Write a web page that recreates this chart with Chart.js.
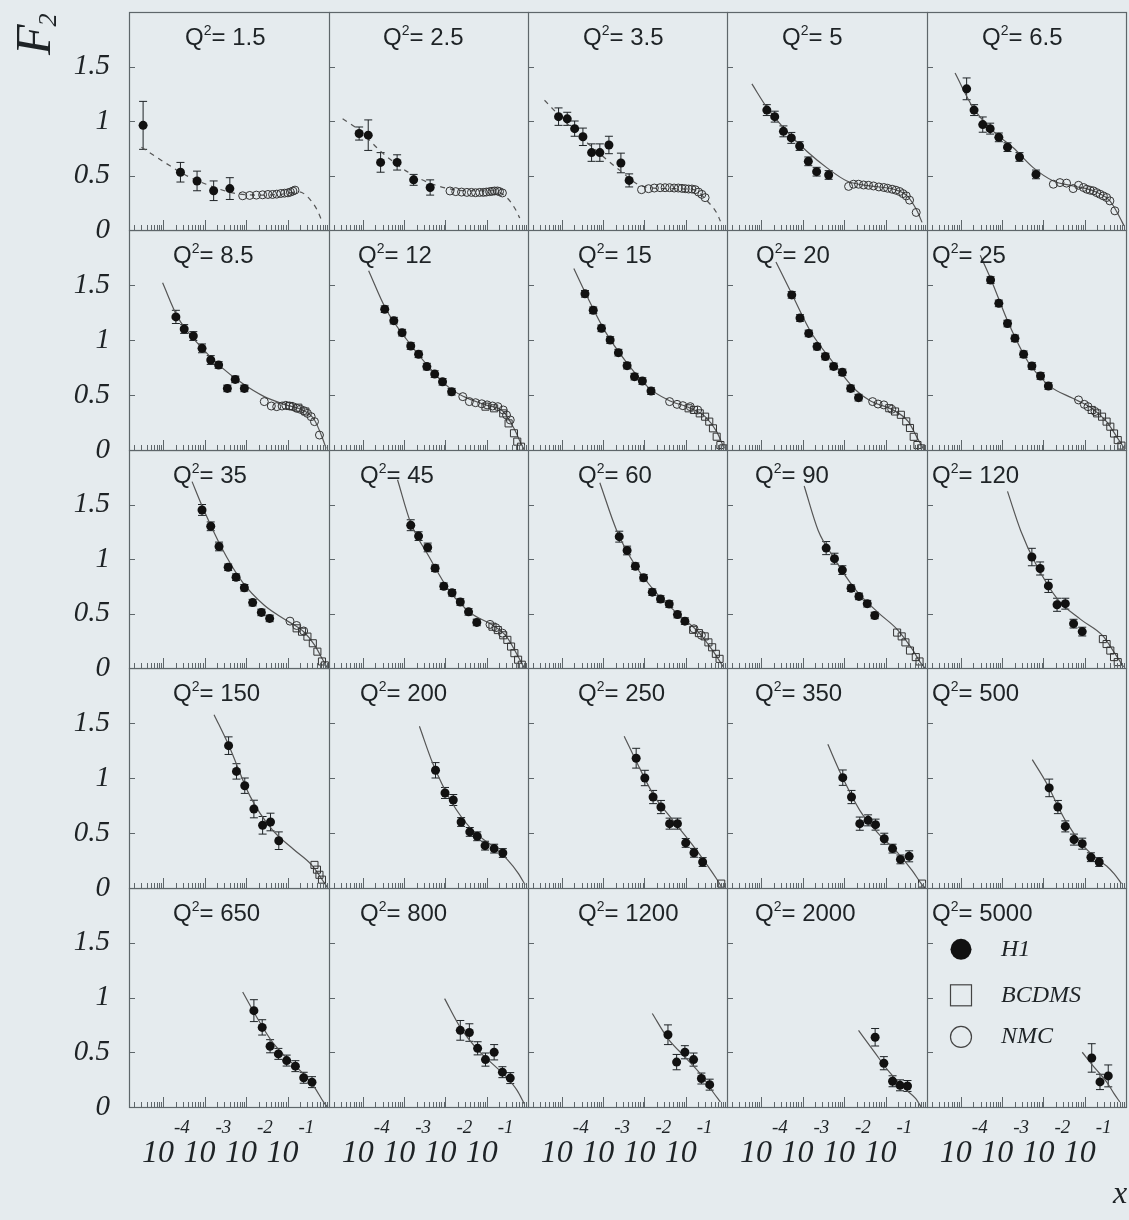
<!DOCTYPE html>
<html>
<head>
<meta charset="utf-8">
<script src="https://cdn.jsdelivr.net/npm/chart.js@4.4.1/dist/chart.umd.min.js"></script>
<style>
  body { margin: 0; background: #e5ebee; width: 1129px; height: 1220px; overflow: hidden; position: relative; }
  canvas { position: absolute; }
</style>
</head>
<body>
<script>
// Q^2 of each panel, row by row
const q2Values = ['1.5', '2.5', '3.5', '5', '6.5', '8.5', '12', '15', '20', '25',
  '35', '45', '60', '90', '120', '150', '200', '250', '350', '500',
  '650', '800', '1200', '2000', '5000'];

// H1 points: log10(x), F2 and error, one list per panel
const h1LogX = [
  [-4.48, -3.58, -3.18, -2.78, -2.39],
  [-4.09, -3.87, -3.57, -3.17, -2.77, -2.37],
  [-4.08, -3.87, -3.69, -3.49, -3.28, -3.08, -2.86, -2.57, -2.37],
  [-3.86, -3.67, -3.46, -3.27, -3.07, -2.86, -2.66, -2.37],
  [-3.86, -3.68, -3.47, -3.29, -3.08, -2.87, -2.58, -2.18],
  [-3.69, -3.49, -3.27, -3.06, -2.85, -2.66, -2.45, -2.26, -2.04],
  [-3.47, -3.25, -3.05, -2.84, -2.65, -2.45, -2.26, -2.07, -1.85],
  [-3.44, -3.24, -3.04, -2.83, -2.63, -2.42, -2.24, -2.05, -1.84],
  [-3.26, -3.06, -2.85, -2.65, -2.45, -2.25, -2.04, -1.84, -1.65],
  [-3.28, -3.08, -2.87, -2.69, -2.48, -2.28, -2.07, -1.88],
  [-3.06, -2.85, -2.65, -2.43, -2.24, -2.04, -1.84, -1.63, -1.43],
  [-2.84, -2.65, -2.43, -2.25, -2.04, -1.84, -1.64, -1.44, -1.24],
  [-2.61, -2.42, -2.22, -2.02, -1.81, -1.61, -1.40, -1.20, -1.02],
  [-2.43, -2.23, -2.04, -1.83, -1.64, -1.44, -1.26],
  [-2.28, -2.08, -1.88, -1.67, -1.47, -1.27, -1.06],
  [-2.42, -2.23, -2.03, -1.81, -1.60, -1.41, -1.21],
  [-2.24, -2.01, -1.81, -1.62, -1.41, -1.23, -1.04, -0.82, -0.61],
  [-2.20, -1.99, -1.79, -1.60, -1.39, -1.20, -1.00, -0.80, -0.59],
  [-2.03, -1.82, -1.62, -1.42, -1.24, -1.03, -0.83, -0.64, -0.43],
  [-1.86, -1.65, -1.47, -1.26, -1.06, -0.85, -0.65],
  [-1.81, -1.61, -1.42, -1.22, -1.02, -0.81, -0.61, -0.41],
  [-1.64, -1.42, -1.22, -1.03, -0.82, -0.62, -0.43],
  [-1.43, -1.22, -1.02, -0.81, -0.62, -0.42],
  [-1.25, -1.04, -0.83, -0.65, -0.47],
  [-0.83, -0.63, -0.43]
];
const h1F2 = [
  [0.96, 0.53, 0.45, 0.36, 0.38],
  [0.885, 0.87, 0.62, 0.62, 0.46, 0.39],
  [1.04, 1.02, 0.93, 0.855, 0.71, 0.71, 0.78, 0.615, 0.455],
  [1.10, 1.04, 0.905, 0.845, 0.77, 0.63, 0.535, 0.505],
  [1.295, 1.10, 0.967, 0.93, 0.85, 0.76, 0.67, 0.51],
  [1.21, 1.10, 1.036, 0.924, 0.818, 0.773, 0.56, 0.642, 0.56],
  [1.28, 1.176, 1.067, 0.945, 0.87, 0.758, 0.69, 0.62, 0.53],
  [1.42, 1.27, 1.106, 1.0, 0.885, 0.767, 0.667, 0.627, 0.536],
  [1.41, 1.20, 1.06, 0.94, 0.85, 0.76, 0.706, 0.56, 0.476],
  [1.545, 1.333, 1.15, 1.015, 0.87, 0.764, 0.673, 0.582],
  [1.45, 1.30, 1.115, 0.924, 0.833, 0.736, 0.60, 0.51, 0.455],
  [1.31, 1.21, 1.106, 0.915, 0.75, 0.69, 0.606, 0.515, 0.418],
  [1.205, 1.078, 0.934, 0.828, 0.696, 0.633, 0.587, 0.49, 0.43],
  [1.10, 1.003, 0.898, 0.732, 0.657, 0.59, 0.482],
  [1.018, 0.913, 0.753, 0.58, 0.59, 0.407, 0.334],
  [1.294, 1.06, 0.93, 0.718, 0.57, 0.60, 0.43],
  [1.07, 0.864, 0.80, 0.60, 0.51, 0.47, 0.385, 0.358, 0.318],
  [1.18, 1.0, 0.827, 0.736, 0.585, 0.585, 0.41, 0.32, 0.236],
  [1.003, 0.827, 0.585, 0.615, 0.576, 0.448, 0.358, 0.26, 0.288],
  [0.91, 0.736, 0.56, 0.44, 0.403, 0.28, 0.236],
  [0.88, 0.727, 0.555, 0.485, 0.424, 0.373, 0.267, 0.227],
  [0.70, 0.68, 0.536, 0.433, 0.50, 0.318, 0.264],
  [0.66, 0.41, 0.50, 0.433, 0.26, 0.204],
  [0.637, 0.40, 0.235, 0.198, 0.192],
  [0.448, 0.229, 0.284]
];
const h1Err = [
  [0.22, 0.09, 0.09, 0.09, 0.10],
  [0.06, 0.14, 0.09, 0.07, 0.05, 0.07],
  [0.08, 0.06, 0.07, 0.08, 0.08, 0.08, 0.08, 0.09, 0.06],
  [0.05, 0.05, 0.05, 0.05, 0.04, 0.04, 0.04, 0.04],
  [0.10, 0.05, 0.07, 0.05, 0.04, 0.04, 0.04, 0.04],
  [0.06, 0.04, 0.04, 0.04, 0.04, 0.03, 0.03, 0.03, 0.03],
  [0.03, 0.03, 0.03, 0.03, 0.03, 0.03, 0.03, 0.03, 0.03],
  [0.03, 0.03, 0.03, 0.03, 0.03, 0.03, 0.03, 0.03, 0.03],
  [0.03, 0.03, 0.03, 0.03, 0.03, 0.03, 0.03, 0.03, 0.03],
  [0.03, 0.03, 0.03, 0.03, 0.03, 0.03, 0.03, 0.03],
  [0.05, 0.04, 0.04, 0.03, 0.03, 0.03, 0.03, 0.03, 0.03],
  [0.05, 0.04, 0.04, 0.03, 0.03, 0.03, 0.03, 0.03, 0.03],
  [0.05, 0.04, 0.03, 0.03, 0.03, 0.03, 0.03, 0.03, 0.03],
  [0.06, 0.05, 0.04, 0.03, 0.03, 0.03, 0.03],
  [0.08, 0.06, 0.06, 0.06, 0.05, 0.04, 0.04],
  [0.08, 0.07, 0.07, 0.08, 0.08, 0.08, 0.08],
  [0.07, 0.05, 0.05, 0.04, 0.04, 0.04, 0.04, 0.04, 0.04],
  [0.09, 0.07, 0.06, 0.06, 0.05, 0.05, 0.04, 0.04, 0.04],
  [0.07, 0.06, 0.06, 0.05, 0.05, 0.05, 0.04, 0.04, 0.05],
  [0.08, 0.06, 0.05, 0.05, 0.05, 0.04, 0.04],
  [0.10, 0.07, 0.06, 0.05, 0.05, 0.05, 0.05, 0.05],
  [0.09, 0.08, 0.06, 0.06, 0.07, 0.05, 0.05],
  [0.09, 0.07, 0.06, 0.06, 0.05, 0.05],
  [0.08, 0.06, 0.05, 0.05, 0.05],
  [0.13, 0.07, 0.10]
];

// NMC points
const nmcLogX = [
  [-2.08, -1.91, -1.75, -1.60, -1.47, -1.36, -1.26, -1.16, -1.07, -0.99, -0.93, -0.87, -0.82],
  [-1.89, -1.75, -1.61, -1.48, -1.37, -1.27, -1.17, -1.08, -1.01, -0.93, -0.87, -0.81, -0.74, -0.69, -0.62],
  [-2.07, -1.90, -1.76, -1.62, -1.50, -1.39, -1.28, -1.18, -1.09, -1.01, -0.93, -0.85, -0.77, -0.69, -0.61, -0.53],
  [-1.89, -1.77, -1.65, -1.53, -1.41, -1.29, -1.16, -1.04, -0.95, -0.84, -0.75, -0.66, -0.58, -0.50, -0.42, -0.26],
  [-1.76, -1.60, -1.44, -1.28, -1.15, -1.03, -0.95, -0.87, -0.79, -0.71, -0.63, -0.55, -0.47, -0.39, -0.27],
  [-1.56, -1.39, -1.26, -1.13, -1.04, -0.95, -0.87, -0.78, -0.69, -0.61, -0.52, -0.43, -0.35, -0.23],
  [-1.58, -1.42, -1.27, -1.12, -0.99, -0.86, -0.73, -0.60, -0.52, -0.43],
  [-1.39, -1.21, -1.07, -0.89, -0.71],
  [-1.31, -1.18, -1.04, -0.85],
  [-1.15, -1.01, -0.92, -0.75],
  [-0.94, -0.78, -0.61],
  [-0.92, -0.78, -0.62],
  [-0.80, -0.62],
  [], [], [], [], [], [], [], [], [], [], [], []
];
const nmcF2 = [
  [0.314, 0.317, 0.32, 0.323, 0.326, 0.326, 0.329, 0.335, 0.338, 0.341, 0.348, 0.357, 0.366],
  [0.358, 0.352, 0.348, 0.345, 0.345, 0.342, 0.345, 0.345, 0.348, 0.352, 0.355, 0.358, 0.358, 0.352, 0.34],
  [0.37, 0.379, 0.385, 0.388, 0.388, 0.388, 0.385, 0.385, 0.382, 0.379, 0.376, 0.376, 0.37, 0.348, 0.327, 0.297],
  [0.40, 0.42, 0.42, 0.413, 0.41, 0.404, 0.395, 0.39, 0.383, 0.374, 0.365, 0.353, 0.334, 0.313, 0.274, 0.161],
  [0.42, 0.435, 0.43, 0.38, 0.41, 0.39, 0.374, 0.365, 0.359, 0.343, 0.328, 0.313, 0.298, 0.267, 0.176],
  [0.44, 0.40, 0.394, 0.40, 0.406, 0.40, 0.394, 0.379, 0.37, 0.358, 0.333, 0.303, 0.258, 0.136],
  [0.485, 0.44, 0.43, 0.42, 0.41, 0.40, 0.394, 0.364, 0.318, 0.273],
  [0.44, 0.415, 0.403, 0.394, 0.364],
  [0.44, 0.418, 0.41, 0.37],
  [0.455, 0.415, 0.394, 0.35],
  [0.43, 0.39, 0.34],
  [0.40, 0.37, 0.32],
  [0.36, 0.30],
  [], [], [], [], [], [], [], [], [], [], [], []
];

// BCDMS points
const bcdmsLogX = [
  [], [], [], [], [],
  [-0.95, -0.74, -0.57],
  [-1.03, -0.82, -0.60, -0.47, -0.34, -0.26, -0.17],
  [-0.93, -0.80, -0.66, -0.53, -0.43, -0.34, -0.25, -0.16, -0.09],
  [-0.91, -0.77, -0.63, -0.50, -0.41, -0.32, -0.23, -0.14],
  [-0.83, -0.70, -0.58, -0.47, -0.38, -0.29, -0.20, -0.11],
  [-0.78, -0.65, -0.52, -0.39, -0.28, -0.17, -0.10],
  [-0.86, -0.73, -0.60, -0.50, -0.41, -0.33, -0.24, -0.15],
  [-0.82, -0.68, -0.54, -0.45, -0.36, -0.27, -0.18],
  [-0.72, -0.61, -0.52, -0.41, -0.27, -0.18],
  [-0.56, -0.47, -0.38, -0.29, -0.20],
  [-0.35, -0.29, -0.23, -0.17],
  [],
  [-0.14],
  [-0.12],
  [], [], [], [], [], []
];
const bcdmsF2 = [
  [], [], [], [], [],
  [0.40, 0.385, 0.35],
  [0.394, 0.379, 0.333, 0.242, 0.152, 0.076, 0.03],
  [0.379, 0.364, 0.333, 0.303, 0.258, 0.197, 0.121, 0.045, 0.015],
  [0.38, 0.35, 0.32, 0.26, 0.20, 0.12, 0.045, 0.015],
  [0.364, 0.333, 0.303, 0.258, 0.212, 0.15, 0.09, 0.04],
  [0.364, 0.333, 0.288, 0.227, 0.15, 0.06, 0.024],
  [0.379, 0.348, 0.30, 0.258, 0.197, 0.136, 0.076, 0.03],
  [0.35, 0.32, 0.29, 0.235, 0.19, 0.13, 0.084],
  [0.325, 0.29, 0.235, 0.16, 0.10, 0.06],
  [0.265, 0.22, 0.16, 0.10, 0.054],
  [0.21, 0.167, 0.12, 0.076],
  [],
  [0.04],
  [0.04],
  [], [], [], [], [], []
];

// fit curve read along its length
const fitLogX = [
  [-4.52, -3.92, -3.44, -2.96, -2.32, -1.68, -1.12, -0.72, -0.48, -0.28, -0.18],
  [-4.49, -4.07, -3.59, -3.10, -2.62, -2.14, -1.49, -0.85, -0.52, -0.32, -0.20],
  [-4.42, -4.05, -3.56, -3.08, -2.59, -2.11, -1.46, -0.81, -0.49, -0.24, -0.16],
  [-4.22, -3.86, -3.38, -2.89, -2.41, -1.93, -1.37, -0.80, -0.48, -0.24, -0.12],
  [-4.14, -3.70, -3.21, -2.73, -2.24, -1.76, -1.28, -0.79, -0.39, -0.15, -0.05],
  [-4.01, -3.65, -3.13, -2.61, -2.09, -1.56, -1.04, -0.61, -0.35, -0.17, -0.07],
  [-3.86, -3.44, -2.93, -2.41, -1.89, -1.55, -1.03, -0.60, -0.34, -0.17, -0.09],
  [-3.71, -3.42, -2.97, -2.42, -1.88, -1.43, -0.89, -0.53, -0.25, -0.07],
  [-3.64, -3.26, -2.81, -2.27, -1.72, -1.36, -0.82, -0.45, -0.23, -0.07],
  [-3.53, -3.28, -2.83, -2.37, -1.83, -1.29, -0.83, -0.47, -0.20, -0.04],
  [-3.30, -3.04, -2.61, -2.09, -1.56, -1.04, -0.61, -0.35, -0.17, -0.04],
  [-3.16, -2.84, -2.41, -1.89, -1.37, -0.86, -0.52, -0.26, -0.09],
  [-3.08, -2.67, -2.22, -1.67, -1.13, -0.68, -0.32, -0.09],
  [-2.96, -2.62, -2.26, -1.72, -1.17, -0.72, -0.36, -0.14, -0.05],
  [-2.87, -2.55, -2.19, -1.65, -1.10, -0.56, -0.29, -0.06],
  [-2.77, -2.42, -1.90, -1.37, -0.85, -0.42, -0.11, -0.03],
  [-2.63, -2.31, -1.88, -1.36, -0.85, -0.50, -0.24, -0.07],
  [-2.49, -2.13, -1.77, -1.31, -0.86, -0.50, -0.23, -0.14],
  [-2.39, -2.08, -1.62, -1.17, -0.72, -0.36, -0.14, -0.05],
  [-2.27, -1.92, -1.47, -1.01, -0.65, -0.47, -0.29, -0.11],
  [-2.08, -1.74, -1.39, -1.04, -0.61, -0.35, -0.13, -0.04],
  [-2.02, -1.64, -1.20, -0.86, -0.52, -0.26, -0.09],
  [-1.81, -1.43, -0.98, -0.62, -0.34, -0.16],
  [-1.65, -1.27, -0.91, -0.54, -0.27, -0.14],
  [-1.06, -0.74, -0.47, -0.29, -0.15]
];
const fitF2 = [
  [0.76, 0.61, 0.50, 0.42, 0.34, 0.32, 0.33, 0.35, 0.29, 0.18, 0.09],
  [1.02, 0.91, 0.73, 0.58, 0.47, 0.40, 0.36, 0.36, 0.30, 0.20, 0.11],
  [1.19, 1.045, 0.86, 0.70, 0.545, 0.41, 0.38, 0.37, 0.27, 0.15, 0.08],
  [1.34, 1.125, 0.905, 0.72, 0.57, 0.45, 0.404, 0.374, 0.313, 0.176, 0.07],
  [1.44, 1.12, 0.905, 0.754, 0.57, 0.45, 0.404, 0.359, 0.267, 0.115, 0.04],
  [1.52, 1.21, 0.955, 0.758, 0.606, 0.485, 0.41, 0.358, 0.273, 0.12, 0.015],
  [1.63, 1.28, 1.0, 0.758, 0.56, 0.485, 0.41, 0.35, 0.197, 0.06, 0],
  [1.65, 1.42, 1.09, 0.79, 0.56, 0.455, 0.38, 0.303, 0.167, 0.015],
  [1.71, 1.42, 1.08, 0.80, 0.545, 0.445, 0.364, 0.258, 0.106, 0],
  [1.77, 1.56, 1.14, 0.80, 0.576, 0.47, 0.38, 0.258, 0.106, 0.015],
  [1.71, 1.47, 1.12, 0.79, 0.576, 0.44, 0.333, 0.212, 0.09, 0],
  [1.727, 1.33, 1.03, 0.70, 0.50, 0.394, 0.288, 0.12, 0],
  [1.70, 1.26, 0.94, 0.67, 0.476, 0.325, 0.145, 0.01],
  [1.67, 1.26, 1.02, 0.717, 0.506, 0.355, 0.175, 0.04, 0],
  [1.62, 1.26, 0.958, 0.627, 0.446, 0.295, 0.145, 0.01],
  [1.576, 1.30, 0.833, 0.53, 0.35, 0.21, 0.045, 0],
  [1.47, 1.136, 0.80, 0.53, 0.379, 0.258, 0.136, 0.03],
  [1.38, 1.10, 0.84, 0.615, 0.403, 0.22, 0.07, 0.015],
  [1.306, 1.04, 0.706, 0.494, 0.327, 0.16, 0.04, 0],
  [1.167, 0.95, 0.615, 0.373, 0.25, 0.20, 0.13, 0.04],
  [1.05, 0.82, 0.606, 0.455, 0.30, 0.18, 0.045, 0],
  [0.99, 0.727, 0.515, 0.394, 0.273, 0.15, 0.03],
  [0.854, 0.625, 0.442, 0.29, 0.137, 0.046],
  [0.70, 0.503, 0.32, 0.168, 0.076, 0],
  [0.50, 0.35, 0.23, 0.122, 0.046]
];

const decadeTicks = [-4, -3, -2, -1];
const yTickValues = [0, 0.5, 1, 1.5];
const yTickLabels = ['0', '0.5', '1', '1.5'];
const legendLabels = ['H1', 'BCDMS', 'NMC'];

// page layout (pixels)
const colX = [129, 329, 528, 727, 927, 1126];
const rowY = [12, 230, 450, 668, 888, 1107];
const titleOffset = [56, 54, 55, 55, 55, 44, 29, 50, 29, 5, 44, 31, 50, 28, 5,
  44, 31, 50, 28, 5, 44, 31, 50, 28, 5];
const legendAt = [1.44, 1.02, 0.64]; // legend rows, in F2 units of the last panel
const X_MIN = Math.pow(10, -4.82);
const ink = '#1e2326';
const frameColor = '#5e666a';
const serif = '"Liberation Serif", "DejaVu Serif", serif';
const sans = '"Liberation Sans", Arial, sans-serif';

const toPoints = (lx, f) => lx.map((v, k) => ({ x: Math.pow(10, v), y: f[k] }));

const panelDecor = {
  id: 'panelDecor',
  beforeDatasetsDraw(chart, args, opts) {
    const { ctx, scales: { x, y } } = chart;
    const i = opts.index;
    ctx.save();
    ctx.strokeStyle = ink;
    ctx.lineWidth = 1;
    h1LogX[i].forEach((lx, k) => {
      const px = x.getPixelForValue(Math.pow(10, lx));
      const y1 = y.getPixelForValue(h1F2[i][k] + h1Err[i][k]);
      const y2 = y.getPixelForValue(h1F2[i][k] - h1Err[i][k]);
      ctx.beginPath();
      ctx.moveTo(px, y1); ctx.lineTo(px, y2);
      ctx.moveTo(px - 4, y1); ctx.lineTo(px + 4, y1);
      ctx.moveTo(px - 4, y2); ctx.lineTo(px + 4, y2);
      ctx.stroke();
    });
    ctx.restore();
  },
  afterDraw(chart, args, opts) {
    const { ctx, chartArea: a, scales: { x, y } } = chart;
    const i = opts.index, row = opts.row, col = opts.col;
    ctx.save();
    // frame
    ctx.strokeStyle = frameColor;
    ctx.lineWidth = 1.2;
    ctx.strokeRect(a.left + 0.5, a.top + 0.5, a.right - a.left, a.bottom - a.top);
    // inward ticks
    ctx.lineWidth = 1;
    ctx.beginPath();
    for (let n = -5; n <= -1; n++) {
      for (let k = 1; k <= 9; k++) {
        const v = k * Math.pow(10, n);
        if (v < X_MIN) continue;
        const px = Math.round(x.getPixelForValue(v)) + 0.5;
        const len = k === 1 ? 10 : 5;
        ctx.moveTo(px, a.bottom); ctx.lineTo(px, a.bottom - len);
      }
    }
    [0.5, 1, 1.5].forEach(v => {
      const py = Math.round(y.getPixelForValue(v)) + 0.5;
      ctx.moveTo(a.left, py); ctx.lineTo(a.left + 6, py);
    });
    ctx.stroke();

    // title Q^2 = ...
    ctx.fillStyle = ink;
    ctx.textAlign = 'left';
    ctx.textBaseline = 'alphabetic';
    let tx = a.left + titleOffset[i];
    const ty = a.top + 33;
    ctx.font = '24px ' + sans;
    ctx.fillText('Q', tx, ty);
    tx += ctx.measureText('Q').width;
    ctx.font = '14px ' + sans;
    ctx.fillText('2', tx, ty - 10);
    tx += ctx.measureText('2').width;
    ctx.font = '24px ' + sans;
    ctx.fillText('= ' + q2Values[i], tx, ty);

    // y tick labels on the left column
    if (col === 0) {
      ctx.font = 'italic 29px ' + serif;
      ctx.textAlign = 'right';
      ctx.textBaseline = 'middle';
      yTickValues.forEach((v, k) => ctx.fillText(yTickLabels[k], a.left - 19, y.getPixelForValue(v)));
      if (row === 0) {
        ctx.save();
        ctx.translate(50, 55);
        ctx.rotate(-Math.PI / 2);
        ctx.textAlign = 'left';
        ctx.textBaseline = 'alphabetic';
        ctx.font = 'italic 50px ' + serif;
        ctx.fillText('F', 0, 0);
        const w = ctx.measureText('F').width;
        ctx.font = 'italic 26px ' + serif;
        ctx.fillText('2', w - 2, 6);
        ctx.restore();
      }
    }
    // x tick labels on the bottom row
    if (row === 4) {
      decadeTicks.forEach(d => {
        const px = x.getPixelForValue(Math.pow(10, d));
        ctx.textBaseline = 'alphabetic';
        ctx.font = 'italic 32px ' + serif;
        ctx.textAlign = 'center';
        ctx.fillText('10', px - 5, a.bottom + 55);
        ctx.font = 'italic 19px ' + serif;
        ctx.textAlign = 'left';
        ctx.fillText(String(d), px + 11, a.bottom + 26);
      });
      if (col === 4) {
        ctx.font = 'italic 32px ' + serif;
        ctx.textAlign = 'center';
        ctx.textBaseline = 'middle';
        ctx.fillText('x', a.left + (1120 - colX[4]), a.bottom + 88);
      }
    }
    // legend inside the last panel
    if (i === q2Values.length - 1) {
      const mx = a.left + 34;
      const ys = legendAt.map(v => y.getPixelForValue(v));
      ctx.fillStyle = '#111';
      ctx.strokeStyle = '#444';
      ctx.lineWidth = 1.2;
      ctx.beginPath(); ctx.arc(mx, ys[0], 10.5, 0, Math.PI * 2); ctx.fill();
      ctx.strokeRect(mx - 10.5, ys[1] - 10.5, 21, 21);
      ctx.beginPath(); ctx.arc(mx, ys[2], 10.5, 0, Math.PI * 2); ctx.stroke();
      ctx.fillStyle = ink;
      ctx.font = 'italic 24px ' + serif;
      ctx.textAlign = 'left';
      ctx.textBaseline = 'middle';
      legendLabels.forEach((t, k) => ctx.fillText(t, a.left + 74, ys[k]));
    }
    ctx.restore();
  }
};

for (let i = 0; i < q2Values.length; i++) {
  const row = Math.floor(i / 5), col = i % 5;
  const left = colX[col], right = colX[col + 1], top = rowY[row], bottom = rowY[row + 1];
  const pad = {
    left: col === 0 ? 129 : 0,
    top: row === 0 ? 12 : 0,
    right: 1 + (col === 4 ? 3 : 0),
    bottom: row === 4 ? 113 : (col === 0 ? 14 : 1)
  };
  const cv = document.createElement('canvas');
  cv.width = right - left + pad.left + pad.right;
  cv.height = bottom - top + pad.top + pad.bottom;
  cv.style.left = (left - pad.left) + 'px';
  cv.style.top = (top - pad.top) + 'px';
  cv.style.width = cv.width + 'px';
  cv.style.height = cv.height + 'px';
  document.body.appendChild(cv);

  new Chart(cv, {
    type: 'scatter',
    data: {
      datasets: [
        {
          label: 'H1', data: toPoints(h1LogX[i], h1F2[i]), order: 0,
          pointStyle: 'circle', pointRadius: 4.5, backgroundColor: '#111', borderColor: '#111', borderWidth: 0
        },
        {
          label: 'BCDMS', data: toPoints(bcdmsLogX[i], bcdmsF2[i]), order: 1,
          pointStyle: 'rect', pointRadius: 5, backgroundColor: 'rgba(0,0,0,0)', borderColor: '#333', borderWidth: 1
        },
        {
          label: 'NMC', data: toPoints(nmcLogX[i], nmcF2[i]), order: 2,
          pointStyle: 'circle', pointRadius: 4, backgroundColor: 'rgba(0,0,0,0)', borderColor: '#333', borderWidth: 1
        },
        {
          label: 'fit', data: toPoints(fitLogX[i], fitF2[i]), order: 3,
          showLine: true, pointRadius: 0, borderColor: '#555', borderWidth: 1.2,
          borderDash: i < 3 ? [5, 5] : [], cubicInterpolationMode: 'monotone', fill: false
        }
      ]
    },
    options: {
      responsive: false,
      animation: false,
      events: [],
      layout: { padding: pad, autoPadding: false },
      plugins: {
        legend: { display: false },
        tooltip: { enabled: false },
        panelDecor: { index: i, row: row, col: col }
      },
      scales: {
        x: { type: 'logarithmic', min: X_MIN, max: 1, display: false },
        y: { type: 'linear', min: 0, max: 2, display: false }
      }
    },
    plugins: [panelDecor]
  });
}
</script>
</body>
</html>
